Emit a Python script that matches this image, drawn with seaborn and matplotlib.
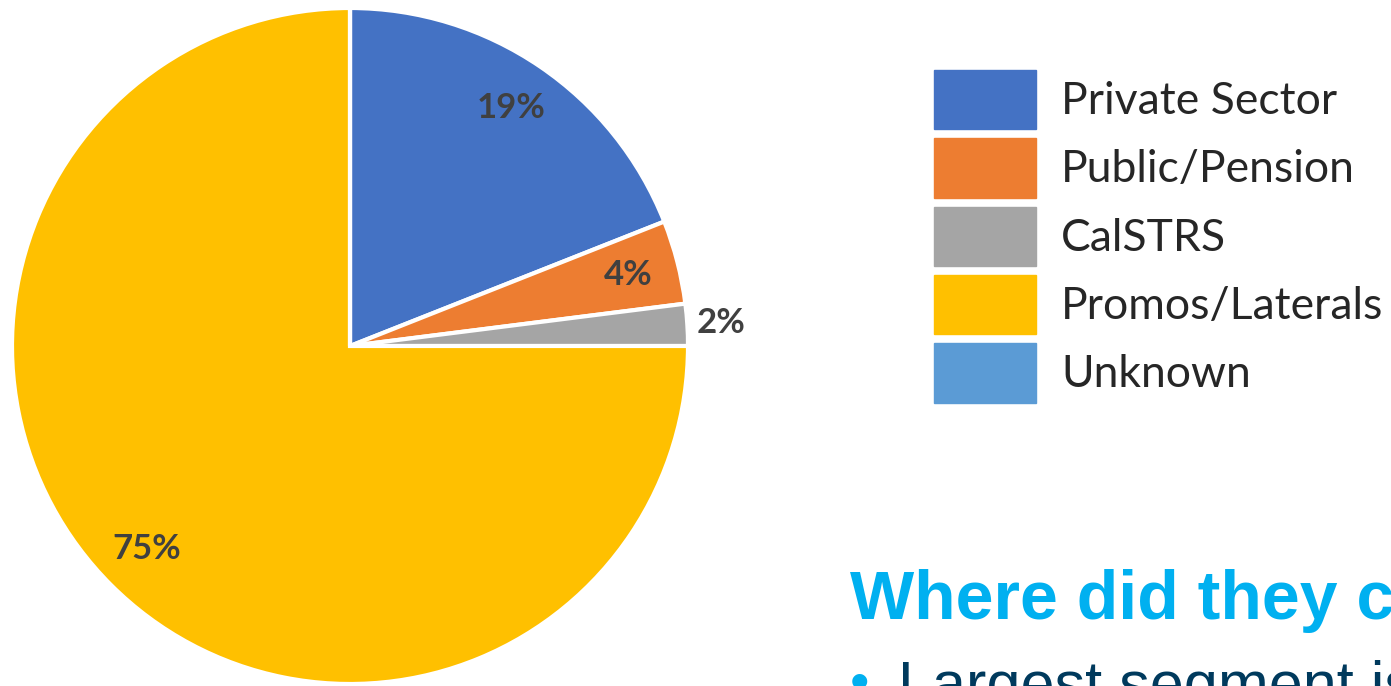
import numpy as np
import matplotlib.pyplot as plt
import seaborn as sns

# dados do gráfico
categorias = ['Private Sector', 'Public/Pension', 'CalSTRS', 'Promos/Laterals', 'Unknown']
valores = [19, 4, 2, 75, 0]
cores = ['#4472C4', '#ED7D31', '#A5A5A5', '#FFC000', '#5B9BD5']
titulo = 'Where did they come from?'
bullet = 'Largest segment is Promos/Laterals'

sns.set_theme(style='white')
plt.rcParams['font.family'] = ['Lato', 'DejaVu Sans']
palette = sns.color_palette(cores)

W, H = 1391, 686
fig = plt.figure(figsize=(W / 100, H / 100), dpi=100)
fig.patch.set_facecolor('white')

# eixo da pizza
cx, cy, r = 350, 346, 338
ax = fig.add_axes([(cx - r) / W, (H - cy - r) / H, 2 * r / W, 2 * r / H])


def fmt_pct(p):
    return f'{p:.0f}%' if p > 0.5 else ''


wedges, texts, autotexts = ax.pie(valores, colors=palette, startangle=90, counterclock=False,
                                  radius=1, autopct=fmt_pct, pctdistance=0.85,
                                  wedgeprops=dict(edgecolor='white', linewidth=3),
                                  textprops=dict(fontsize=25, fontweight='bold', color='#404040'))

# rótulo de 2% fica fora da fatia
w = wedges[2]
ang = np.deg2rad((w.theta1 + w.theta2) / 2)
autotexts[2].set_position((1.10 * np.cos(ang), 1.10 * np.sin(ang)))

ax.set_xlim(-1, 1)
ax.set_ylim(-1, 1)
ax.set_aspect('equal')
ax.axis('off')

# legenda
handles = [plt.Rectangle((0, 0), 1, 1, color=c) for c in palette]
fig.legend(handles, categorias, loc='upper left', bbox_to_anchor=(934 / W, 1 - 70 / H),
           frameon=False, fontsize=32, handlelength=2.3, handleheight=1.68,
           labelspacing=0.2, handletextpad=0.56, borderaxespad=0, borderpad=0)

# texto do slide, cortado na borda como no original
fig.text(850 / W, 1 - 619 / H, titulo, fontsize=49, fontweight='bold', color='#00B0F0',
         family='Liberation Sans', va='baseline', ha='left')
fig.text(850 / W, 1 - 700 / H, '\u2022', fontsize=40, color='#00B0F0',
         family='Liberation Sans', va='baseline', ha='left')
fig.text(898 / W, 1 - 704 / H, bullet, fontsize=44, color='#003A5D',
         family='Liberation Sans', va='baseline', ha='left')

fig.savefig('out.png', dpi=100, facecolor='white')
